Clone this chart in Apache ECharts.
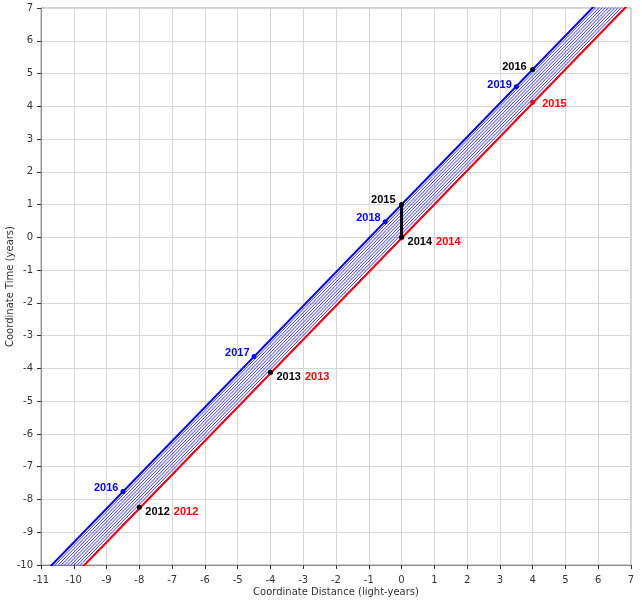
<!DOCTYPE html>
<html>
<head>
<meta charset="utf-8">
<script src="https://cdn.jsdelivr.net/npm/echarts@6/dist/echarts.min.js"></script>
<style>
  html, body { margin: 0; background: #fff; }
  #chart { width: 642px; height: 600px; }
</style>
</head>
<body>
<div id="chart"></div>
<script>
// worldlines: slope 1/v with v = 0.97c
var slope = 1.031;
var lineXRange = [-12, 8];
var bandOffsets = [0, 0.1, 0.2, 0.3, 0.4, 0.5, 0.6, 0.7, 0.8, 0.9];
var blueOffset = 1;
var redOffset = -0.03;

var blackYears = ['2012', '2013', '2014', '2015', '2016'];
var blackPoints = [[-8, -8.24], [-4, -4.12], [0, 0], [0, 1], [4, 5.12]];
var redYears = ['2012', '2013', '2014', '2015'];
var redPoints = [[-8, -8.24], [-4, -4.12], [0, 0], [4, 4.12]];
var blueYears = ['2016', '2017', '2018', '2019'];
var bluePoints = [[-8.5, -7.76], [-4.5, -3.64], [-0.5, 0.48], [3.5, 4.6]];
var stopSegment = [[0, 0], [0, 1]];

var xTicks = { min: -11, max: 7, interval: 1 };
var yTicks = { min: -10, max: 7, interval: 1 };

function worldline(offset) {
  return lineXRange.map(function (x) { return [x, slope * x + offset]; });
}

var labelFont = { fontFamily: 'Liberation Sans', fontWeight: 'bold', fontSize: 11 };

var series = [];

// hatch band
bandOffsets.forEach(function (o) {
  series.push({
    type: 'line', data: worldline(o), symbol: 'none', silent: true,
    lineStyle: { color: '#3838ff', width: 1 }, z: 1
  });
});
series.push({
  type: 'line', data: worldline(blueOffset), symbol: 'none', silent: true,
  lineStyle: { color: '#0000ff', width: 2 }, z: 2
});
series.push({
  type: 'line', data: worldline(redOffset), symbol: 'none', silent: true,
  lineStyle: { color: '#ff0000', width: 2 }, z: 3
});
series.push({
  type: 'line', data: stopSegment, symbol: 'none', silent: true,
  lineStyle: { color: '#000', width: 3 }, z: 4
});

// red points
series.push({
  type: 'scatter', symbol: 'circle', symbolSize: 5, z: 5,
  itemStyle: { color: '#ff0000', opacity: 1 },
  data: redPoints.map(function (p, i) {
    var last = i === redPoints.length - 1;
    return {
      value: p, name: redYears[i],
      label: {
        show: true, position: 'right', distance: last ? 7 : 32,
        offset: last ? [0, 2] : [0, 5],
        formatter: '{b}', color: '#ff0000'
      }
    };
  }),
  label: labelFont
});

// blue points
series.push({
  type: 'scatter', symbol: 'circle', symbolSize: 5, z: 5,
  itemStyle: { color: '#0000ff', opacity: 1 },
  data: bluePoints.map(function (p, i) {
    var last = i === bluePoints.length - 1;
    return {
      value: p, name: blueYears[i],
      label: {
        show: true, position: 'left', distance: 2,
        offset: last ? [0, -2] : [0, -4],
        formatter: '{b}', color: '#0000ff'
      }
    };
  }),
  label: labelFont
});

// black points
series.push({
  type: 'scatter', symbol: 'circle', symbolSize: 5, z: 6,
  itemStyle: { color: '#000', opacity: 1 },
  data: blackPoints.map(function (p, i) {
    var left = i >= 3;
    return {
      value: p, name: blackYears[i],
      label: {
        show: true, position: left ? 'left' : 'right', distance: 3.5,
        offset: left ? (i === 3 ? [0, -4.5] : [0, -2.5]) : [0, 5],
        formatter: '{b}', color: '#000'
      }
    };
  }),
  label: labelFont
});

var axisCommon = {
  type: 'value',
  axisLine: { show: true, onZero: false, lineStyle: { color: '#8c8c8c', width: 1 } },
  axisTick: { show: true, length: 4, lineStyle: { color: '#333' } },
  axisLabel: { color: '#333', fontFamily: 'DejaVu Sans', fontSize: 10 },
  splitLine: { show: true, lineStyle: { color: '#d6d6d6', width: 1 } },
  nameLocation: 'middle',
  nameMoveOverlap: false,
  nameTextStyle: { color: '#333', fontFamily: 'DejaVu Sans', fontSize: 10 }
};

var chart = echarts.init(document.getElementById('chart'));
chart.setOption({
  animation: false,
  grid: {
    left: 41, right: 11, top: 8, bottom: 35,
    outerBoundsMode: 'none', containLabel: false,
    show: true, borderColor: '#a0a0a0', borderWidth: 1, backgroundColor: '#fff'
  },
  xAxis: Object.assign({}, axisCommon, xTicks, {
    name: 'Coordinate Distance (light-years)', nameGap: 22,
    axisLabel: Object.assign({}, axisCommon.axisLabel, { margin: 10 })
  }),
  yAxis: Object.assign({}, axisCommon, yTicks, {
    name: 'Coordinate Time (years)', nameGap: 26
  }),
  series: series
});
</script>
</body>
</html>
